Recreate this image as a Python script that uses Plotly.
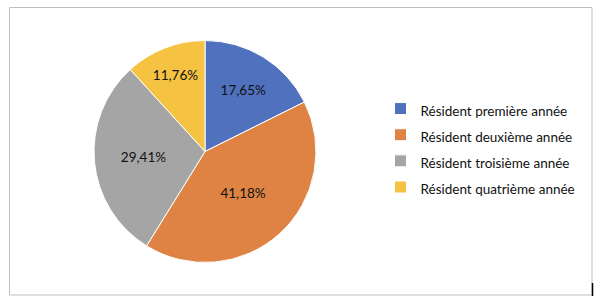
import plotly.graph_objects as go

categories = ["Résident première année", "Résident deuxième année",
              "Résident troisième année", "Résident quatrième année"]
values = [3, 7, 5, 2]
colors = ["#4F71BE", "#DE8344", "#A5A5A5", "#F5C242"]

W, H = 600, 303
labels = ['<span style="font-size:13.5px">%s</span>' % c for c in categories]

fig = go.Figure(go.Pie(
    labels=labels,
    values=values,
    sort=False,
    direction="clockwise",
    rotation=0,
    marker=dict(colors=colors, line=dict(color="white", width=1)),
    texttemplate="%{percent:.2%}",
    textposition="inside",
    insidetextorientation="horizontal",
    textfont=dict(family="Lato", size=13.5, color="#111111"),
    domain=dict(x=[94 / W, 316 / W], y=[1 - 262.5 / H, 1 - 40.5 / H]),
    hoverinfo="label+percent",
))

fig.update_layout(
    width=W, height=H,
    margin=dict(l=0, r=0, t=0, b=0),
    paper_bgcolor="white",
    plot_bgcolor="white",
    separators=", ",
    font=dict(family="Lato", color="#111111"),
    showlegend=True,
    legend=dict(
        x=380.5 / W, y=1 - 90.5 / H, xanchor="left", yanchor="top",
        font=dict(family="Lato", size=17.8, color="#111111"),
        bgcolor="rgba(0,0,0,0)",
        itemclick=False,
    ),
    shapes=[
        dict(type="rect", xref="paper", yref="paper",
             x0=9.5 / W, x1=592 / W, y0=1 - 295 / H, y1=1 - 7.5 / H,
             line=dict(color="#BFBFBF", width=1)),
        dict(type="line", xref="paper", yref="paper",
             x0=592.5 / W, x1=592.5 / W, y0=1 - 296 / H, y1=1 - 283 / H,
             line=dict(color="#000000", width=1.5)),
    ],
)

fig.write_html("out.html")
